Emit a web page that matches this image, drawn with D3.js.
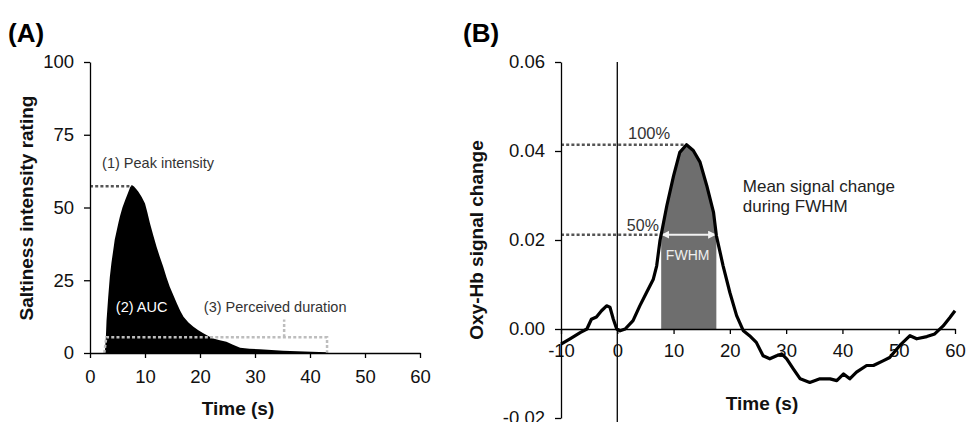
<!DOCTYPE html>
<html>
<head>
<meta charset="utf-8">
<script src="https://cdn.jsdelivr.net/npm/d3@7"></script>
<style>
  body { margin: 0; background: #fff; }
  svg { display: block; font-family: "Liberation Sans", Arial, sans-serif; }
</style>
</head>
<body>
<svg id="chart" width="966" height="422"></svg>
<script>
// Panel A: saltiness rating over time
const ratingTime = [2.7, 2.9, 3.0, 3.3, 3.6, 3.9, 4.2, 4.5, 4.85, 5.2, 5.45, 5.9, 6.4, 6.9, 7.3, 7.6, 8.0, 8.4, 8.8, 9.4, 10, 10.4, 10.9, 11.5, 12.1, 12.7, 13.3, 13.9, 14.5, 15.2, 15.8, 16.4, 17, 17.9, 18.8, 19.7, 20.6, 21.5, 22.4, 23.6, 24.8, 26, 27.3, 29, 30.9, 33, 35.1, 39, 43, 43.1];
const ratingValue = [0, 6, 11, 19, 26, 31, 35, 39, 42, 45, 47, 50, 52.6, 55, 57, 57.7, 57.2, 56.4, 55.4, 53.6, 51.4, 48.5, 44.6, 40.5, 36.5, 33, 29.7, 26, 22.8, 19.7, 17, 14.5, 12.5, 10.5, 9, 7.8, 6.8, 5.8, 5, 4.4, 3.9, 2.8, 1.8, 1.5, 1.3, 1, 0.8, 0.5, 0.3, 0];
const ratingTicksX = [0, 10, 20, 30, 40, 50, 60];
const ratingTicksY = [0, 25, 50, 75, 100];
const peakRating = 57.3, peakRatingTime = 7.6;
const durationStart = 2.6, durationEnd = 43.1, durationLevel = 5.4, durationMark = 35.3;

// Panel B: oxy-Hb signal change
const hbTime = [-10, -8.4, -6.6, -5.4, -4.6, -3.7, -2.8, -1.9, -1.3, -0.7, -0.1, 0.5, 1.4, 2.8, 4.0, 5.2, 6.4, 7.0, 7.6, 7.8, 8.8, 10.0, 11.1, 12.3, 13.5, 14.7, 15.9, 17.1, 17.6, 18.8, 20.0, 21.2, 22.4, 23.5, 24.7, 25.9, 27.1, 28.3, 29.2, 30.1, 31.3, 32.5, 34.2, 36.0, 37.8, 39.0, 40.2, 41.3, 42.5, 44.3, 45.5, 47.3, 48.4, 50.2, 52.0, 53.2, 55.0, 56.4, 57.9, 59.1, 60.0];
const hbValue = [-0.0034, -0.0022, -0.0008, 0, 0.0022, 0.0027, 0.0041, 0.0052, 0.0049, 0.0022, 0, -0.0004, 0, 0.0019, 0.0052, 0.0082, 0.0112, 0.0142, 0.020, 0.0212, 0.0277, 0.0344, 0.0397, 0.0414, 0.0401, 0.0375, 0.0322, 0.0262, 0.0210, 0.0142, 0.0082, 0.003, -0.0004, -0.0015, -0.003, -0.006, -0.0067, -0.006, -0.0056, -0.0067, -0.009, -0.0112, -0.012, -0.0112, -0.0112, -0.0116, -0.0101, -0.0112, -0.0097, -0.0082, -0.0082, -0.0071, -0.0064, -0.0037, -0.0015, -0.0022, -0.0017, -0.0011, 0.0007, 0.0026, 0.0041];
const hbTicksX = [-10, 0, 10, 20, 30, 40, 50, 60];
const hbTicksY = [-0.02, 0, 0.02, 0.04, 0.06];
const hbPeak = 0.0414, hbPeakTime = 12.3;
const hbHalf = 0.0212, hbHalfTime = 7.6;
const fwhmStart = 7.8, fwhmEnd = 17.6;

const svg = d3.select("#chart");
const dotted = "3,2.2";

function styleAxis(g) {
    g.select(".domain").attr("stroke", "#000").attr("stroke-width", 1.3);
    g.selectAll(".tick line").attr("stroke", "#000").attr("stroke-width", 1.3);
    g.selectAll(".tick text").attr("fill", "#111").style("font-size", "18.5px");
}

// ---------- Panel A ----------
const xA = d3.scaleLinear().domain([0, 60]).range([90, 420]);
const yA = d3.scaleLinear().domain([0, 100]).range([353, 62]);
const ratingData = ratingTime.map((t, i) => ({ t: t, v: ratingValue[i] }));

svg.append("text").attr("x", 8).attr("y", 42)
    .style("font-size", "26px").style("font-weight", "bold").text("(A)");

svg.append("path")
    .datum(ratingData)
    .attr("fill", "#000")
    .attr("d", d3.area().x(d => xA(d.t)).y0(yA(0)).y1(d => yA(d.v)));

// peak intensity dotted line
svg.append("line")
    .attr("x1", xA(0)).attr("x2", xA(peakRatingTime))
    .attr("y1", yA(peakRating)).attr("y2", yA(peakRating))
    .attr("stroke", "#555").attr("stroke-width", 2.5).attr("stroke-dasharray", dotted);

// perceived duration bracket
const bracket = d3.path();
bracket.moveTo(xA(durationStart), yA(0));
bracket.lineTo(xA(durationStart) + 2, yA(durationLevel));
bracket.lineTo(xA(durationEnd), yA(durationLevel));
bracket.lineTo(xA(durationEnd), yA(0));
bracket.moveTo(xA(durationMark), yA(durationLevel));
bracket.lineTo(xA(durationMark), yA(11.5));
svg.append("path").attr("d", bracket.toString())
    .attr("fill", "none").attr("stroke", "#bdbdbd")
    .attr("stroke-width", 2.5).attr("stroke-dasharray", dotted);

svg.append("g").attr("transform", `translate(0,${yA(0)})`)
    .call(d3.axisBottom(xA).tickValues(ratingTicksX).tickSize(5).tickSizeOuter(0).tickPadding(12))
    .call(styleAxis);
svg.append("g").attr("transform", `translate(${xA(0)},0)`)
    .call(d3.axisLeft(yA).tickValues(ratingTicksY).tickSize(6).tickSizeOuter(0).tickPadding(10))
    .call(styleAxis);

svg.append("text").attr("x", 238).attr("y", 415).attr("text-anchor", "middle")
    .style("font-size", "19px").style("font-weight", "bold").attr("fill", "#111").text("Time (s)");
svg.append("text").attr("transform", "translate(33,208) rotate(-90)").attr("text-anchor", "middle")
    .style("font-size", "19px").style("font-weight", "bold").attr("fill", "#111").text("Saltiness intensity rating");

svg.append("text").attr("x", xA(2.2)).attr("y", yA(63.6))
    .style("font-size", "14.5px").attr("fill", "#333").text("(1) Peak intensity");
svg.append("text").attr("x", xA(4.7)).attr("y", yA(14))
    .style("font-size", "14.5px").attr("fill", "#fff").text("(2) AUC");
svg.append("text").attr("x", xA(20.7)).attr("y", yA(14))
    .style("font-size", "14.5px").attr("fill", "#333").text("(3) Perceived duration");

// ---------- Panel B ----------
const xB = d3.scaleLinear().domain([-10, 60]).range([561, 955]);
const yB = d3.scaleLinear().domain([-0.02, 0.06]).range([418, 62]);
const hbData = hbTime.map((t, i) => ({ t: t, v: hbValue[i] }));
const fwhmData = hbData.filter(d => d.t >= fwhmStart && d.t <= fwhmEnd);

svg.append("text").attr("x", 463).attr("y", 42)
    .style("font-size", "26px").style("font-weight", "bold").text("(B)");

svg.append("path")
    .datum(fwhmData)
    .attr("fill", "#6e6e6e")
    .attr("d", d3.area().x(d => xB(d.t)).y0(yB(0)).y1(d => yB(d.v)));

// dotted reference levels
svg.append("line")
    .attr("x1", xB(-10)).attr("x2", xB(hbPeakTime))
    .attr("y1", yB(hbPeak)).attr("y2", yB(hbPeak))
    .attr("stroke", "#555").attr("stroke-width", 2.5).attr("stroke-dasharray", dotted);
svg.append("line")
    .attr("x1", xB(-10)).attr("x2", xB(hbHalfTime))
    .attr("y1", yB(hbHalf)).attr("y2", yB(hbHalf))
    .attr("stroke", "#555").attr("stroke-width", 2.5).attr("stroke-dasharray", dotted);

// FWHM double arrow
const defs = svg.append("defs");
defs.append("marker").attr("id", "arrowW").attr("viewBox", "0 0 10 10")
    .attr("refX", 9).attr("refY", 5).attr("markerWidth", 4).attr("markerHeight", 4)
    .attr("orient", "auto-start-reverse")
    .append("path").attr("d", "M0,0L10,5L0,10z").attr("fill", "#f2f2f2");
svg.append("line")
    .attr("x1", xB(fwhmStart) + 1).attr("x2", xB(fwhmEnd) - 1)
    .attr("y1", yB(hbHalf)).attr("y2", yB(hbHalf))
    .attr("stroke", "#f2f2f2").attr("stroke-width", 2)
    .attr("marker-start", "url(#arrowW)").attr("marker-end", "url(#arrowW)");

// vertical line at time 0
svg.append("line")
    .attr("x1", xB(0)).attr("x2", xB(0)).attr("y1", yB(0.06)).attr("y2", 422)
    .attr("stroke", "#000").attr("stroke-width", 1.3);

const fmt = d => (d < 0 ? "-" : "") + d3.format(".2f")(Math.abs(d));
svg.append("g").attr("transform", `translate(0,${yB(0)})`)
    .call(d3.axisBottom(xB).tickValues(hbTicksX).tickSize(5).tickSizeOuter(0).tickPadding(10)
        .tickFormat(d => (d < 0 ? "-" : "") + Math.abs(d)))
    .call(styleAxis);
svg.append("g").attr("transform", `translate(${xB(-10)},0)`)
    .call(d3.axisLeft(yB).tickValues(hbTicksY).tickSize(6).tickSizeOuter(0).tickPadding(10).tickFormat(fmt))
    .call(styleAxis);

svg.append("path")
    .datum(hbData)
    .attr("fill", "none").attr("stroke", "#000").attr("stroke-width", 3.2)
    .attr("stroke-linejoin", "round")
    .attr("d", d3.line().x(d => xB(d.t)).y(d => yB(d.v)));

svg.append("text").attr("x", 762).attr("y", 410).attr("text-anchor", "middle")
    .style("font-size", "19px").style("font-weight", "bold").attr("fill", "#111").text("Time (s)");
svg.append("text").attr("transform", "translate(483,240) rotate(-90)").attr("text-anchor", "middle")
    .style("font-size", "19px").style("font-weight", "bold").attr("fill", "#111").text("Oxy-Hb signal change");

svg.append("text").attr("x", xB(1.9)).attr("y", yB(0.0427))
    .style("font-size", "16.5px").attr("fill", "#333").text("100%");
svg.append("text").attr("x", xB(1.7)).attr("y", yB(0.0221))
    .style("font-size", "16px").attr("fill", "#333").text("50%");
svg.append("text").attr("x", xB(12.5)).attr("y", yB(0.0156)).attr("text-anchor", "middle")
    .style("font-size", "14px").attr("fill", "#eee").text("FWHM");
svg.append("text").attr("x", xB(22.3)).attr("y", yB(0.0307))
    .style("font-size", "17px").attr("fill", "#222").text("Mean signal change");
svg.append("text").attr("x", xB(22.3)).attr("y", yB(0.0262))
    .style("font-size", "17px").attr("fill", "#222").text("during FWHM");
</script>
</body>
</html>
